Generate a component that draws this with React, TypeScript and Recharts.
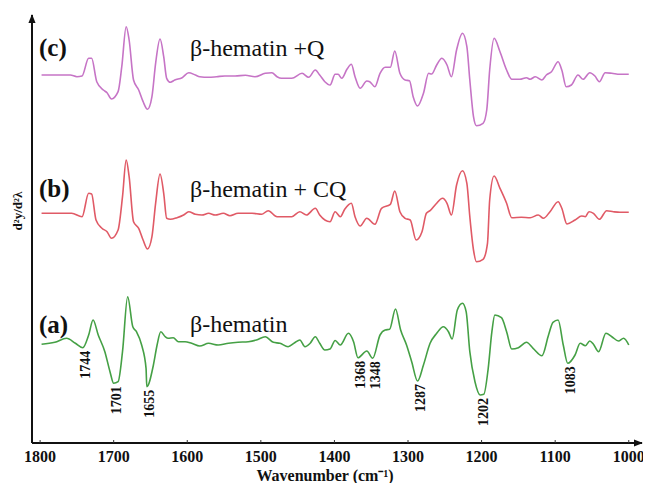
import React from "react";
import { LineChart, Line, XAxis, YAxis, ReferenceDot } from "recharts";

// wavenumbers (cm-1) and second-derivative values (a.u., curves stacked)
const waveA = [1798, 1780, 1764, 1752, 1742, 1734, 1728, 1721, 1712, 1705, 1700, 1694, 1688, 1681, 1674, 1669, 1662, 1656, 1655, 1646, 1641, 1636, 1630, 1626, 1619, 1612, 1603, 1594, 1583, 1571, 1558, 1544, 1531, 1517, 1506, 1494, 1483, 1474, 1463, 1454, 1447, 1440, 1433, 1426, 1420, 1413, 1406, 1399, 1392, 1381, 1374, 1368, 1356, 1348, 1338, 1331, 1325, 1317, 1310, 1302, 1295, 1287, 1279, 1270, 1261, 1252, 1245, 1240, 1233, 1226, 1221, 1216, 1209, 1202, 1197, 1191, 1186, 1182, 1173, 1166, 1159, 1150, 1139, 1130, 1118, 1109, 1103, 1096, 1089, 1083, 1073, 1066, 1059, 1053, 1048, 1041, 1031, 1023, 1014, 1007, 1000];
const valA = [98.7, 100.7, 104.7, 99.7, 95.3, 108, 123, 108, 91.3, 71.3, 59.7, 61.3, 91.3, 146.3, 116.3, 111.3, 98, 74.7, 56.3, 78, 98, 111.3, 106.3, 104.7, 105.3, 101.3, 101.3, 99.7, 97, 99.7, 98, 99.7, 100.7, 101.3, 103, 106.3, 100.7, 99.7, 96.3, 100.3, 103, 96.3, 99.7, 106.3, 99.7, 93, 94, 102.5, 98, 109.7, 101.3, 85.3, 92, 84.7, 108, 113, 113.7, 134, 113, 98, 81.3, 62, 78, 99.7, 109.7, 116.3, 111.3, 104, 133, 139.7, 131.3, 91.3, 61.3, 48, 48.7, 74.7, 111.3, 128, 125.3, 111.3, 94, 95.3, 100.7, 94.7, 87.3, 108, 120.7, 123, 98, 79.7, 88, 99.7, 97.3, 102, 98.7, 91.3, 109.7, 106.3, 102, 104.7, 98];

const waveB = [1798, 1757, 1743, 1734, 1730, 1724, 1716, 1709, 1703, 1694, 1688, 1683, 1679, 1673, 1666, 1660, 1654, 1648, 1643, 1637, 1632, 1628, 1623, 1614, 1605, 1598, 1589, 1580, 1571, 1562, 1551, 1542, 1531, 1512, 1499, 1490, 1478, 1458, 1447, 1438, 1426, 1420, 1406, 1399, 1392, 1386, 1377, 1372, 1365, 1356, 1345, 1336, 1324, 1318, 1311, 1304, 1297, 1289, 1281, 1275, 1270, 1262, 1253, 1247, 1241, 1234, 1226, 1220, 1216, 1211, 1207, 1198, 1192, 1189, 1183, 1175, 1166, 1159, 1146, 1134, 1123, 1116, 1107, 1096, 1091, 1084, 1073, 1064, 1059, 1054, 1048, 1040, 1030, 1021, 1012, 1000];
const valB = [229.7, 229.7, 226.3, 249.7, 249, 223, 214.7, 211.3, 204.7, 213, 246.3, 283, 266.3, 221.3, 214.7, 203, 194, 206.3, 239.7, 269, 249.7, 224.7, 223.7, 225.3, 228, 231.3, 228.7, 228, 229.7, 228, 229.7, 227.3, 229.7, 229.7, 228.7, 232.3, 226.3, 226.3, 231.3, 228, 234.7, 228, 221.3, 231.3, 226.3, 233.7, 239.7, 226.3, 217, 224.7, 218.7, 234.7, 238.7, 252, 231.3, 224.7, 223, 203, 211.3, 229.7, 232.3, 239, 244.7, 239.7, 228, 258, 272.3, 259.7, 226.3, 193, 181.3, 183.7, 199.7, 243, 267, 254.7, 239.7, 225.3, 225.7, 225.3, 228, 224.7, 231.3, 241.3, 234.7, 219, 223, 227, 226.3, 231.3, 229.7, 223.7, 232.3, 231.3, 230.7, 230.7];

const waveC = [1798, 1759, 1750, 1743, 1734, 1730, 1723, 1714, 1709, 1703, 1694, 1689, 1683, 1679, 1673, 1666, 1660, 1654, 1648, 1643, 1637, 1632, 1628, 1623, 1617, 1607, 1598, 1589, 1583, 1571, 1560, 1549, 1535, 1521, 1508, 1494, 1485, 1478, 1472, 1458, 1444, 1435, 1426, 1420, 1413, 1406, 1399, 1395, 1390, 1383, 1377, 1372, 1365, 1356, 1352, 1345, 1338, 1331, 1324, 1318, 1311, 1304, 1298, 1293, 1287, 1279, 1272, 1268, 1261, 1254, 1247, 1241, 1234, 1226, 1220, 1216, 1211, 1207, 1198, 1193, 1189, 1183, 1175, 1166, 1159, 1148, 1139, 1134, 1127, 1118, 1112, 1105, 1096, 1091, 1085, 1078, 1069, 1062, 1053, 1046, 1040, 1032, 1023, 1012, 1000];
const valC = [368, 368, 366.3, 367, 384.7, 384.7, 361.3, 353, 350.3, 344, 351.3, 376.3, 416.3, 403, 363, 353, 341.3, 333.7, 346.3, 379.7, 404, 386.3, 364.7, 360.7, 363, 365.3, 370.3, 368, 366.3, 365.7, 366.3, 367, 367, 367.7, 366.3, 369.7, 370.3, 366.3, 364.7, 364.7, 369.7, 365.7, 373, 368, 361.3, 358, 368.7, 368.7, 364.7, 373.7, 378.7, 366.3, 354.7, 362, 361.3, 356.3, 369.7, 375.7, 375.7, 392, 369.7, 363, 362.3, 346.3, 337, 349.7, 369.7, 369, 378, 384.7, 378, 366.3, 393, 409.7, 396.3, 363, 326.3, 317.3, 319.7, 333, 373, 404.7, 391.3, 373, 363.7, 363.7, 365.3, 363.7, 366.3, 363, 368, 371.3, 381.3, 373, 356.3, 358, 368, 363.7, 370.3, 367, 361.3, 370.3, 369.7, 368.7, 368.7];

const xTicks = [1800, 1700, 1600, 1500, 1400, 1300, 1200, 1100, 1000];
const peakLabels = [1744, 1701, 1655, 1368, 1348, 1287, 1202, 1083];

const toRows = (w: number[], v: number[]) => w.map((x, i) => ({ x, y: v[i] }));
const dataA = toRows(waveA, valA);
const dataB = toRows(waveB, valB);
const dataC = toRows(waveC, valC);

const nearestA = (w: number) =>
  dataA.reduce((best, p) => (Math.abs(p.x - w) < Math.abs(best.x - w) ? p : best), dataA[0]);

const serif = "'Liberation Serif', 'Times New Roman', serif";

const XTick = (props: any) => {
  const { x, y, payload } = props;
  return (
    <g>
      <line x1={x} y1={y} x2={x} y2={y - 3} stroke="#333" strokeWidth={1} />
      <text x={x} y={y + 13} textAnchor="middle" dominantBaseline="central" fontFamily={serif} fontWeight="bold" fontSize={16} fill="#111">
        {payload.value}
      </text>
    </g>
  );
};

const PeakLabel = (text: number) => (props: any) => {
  const vb = props.viewBox || {};
  const cx = (vb.x ?? 0) + (vb.width ?? 0) / 2 + 3;
  const cy = (vb.y ?? 0) + (vb.height ?? 0) / 2 + 3;
  return (
    <text transform={`translate(${cx},${cy}) rotate(-90)`} textAnchor="end" dominantBaseline="central" fontFamily={serif} fontWeight="bold" fontSize={14} fill="#111">
      {text}
    </text>
  );
};

const YLabel = (props: any) => {
  const vb = props.viewBox || {};
  const cy = (vb.y ?? 0) + (vb.height ?? 0) / 2 - 18;
  return (
    <text transform={`translate(9,${cy}) rotate(-90)`} textAnchor="middle" dominantBaseline="central" fontFamily={serif} fontWeight="bold" fontSize={13} fill="#111">
      d²y/d²λ
    </text>
  );
};

const XLabel = (props: any) => {
  const vb = props.viewBox || {};
  const cx = (vb.x ?? 0) + (vb.width ?? 0) / 2 - 12;
  return (
    <text x={cx} y={467} textAnchor="middle" dominantBaseline="central" fontFamily={serif} fontWeight="bold" fontSize={16} fill="#111">
      Wavenumber (cm⁻¹)
    </text>
  );
};

const textStyle: React.CSSProperties = { position: "absolute", fontFamily: serif, color: "#111", whiteSpace: "nowrap", lineHeight: 1 };

export default function App() {
  return (
    <div style={{ position: "relative", width: 643, height: 475 }}>
      <svg width={0} height={0} style={{ position: "absolute" }}>
        <defs>
          <marker id="arrow" viewBox="0 0 10 10" refX="9" refY="5" markerWidth="9" markerHeight="9" markerUnits="userSpaceOnUse" orient="auto-start-reverse">
            <path d="M0,1 L10,5 L0,9 z" fill="#111" />
          </marker>
        </defs>
      </svg>
      <LineChart width={643} height={475} margin={{ top: 7, right: 9, bottom: 0, left: 0 }}>
        <XAxis
          dataKey="x"
          type="number"
          reversed
          domain={[982, 1811]}
          ticks={xTicks}
          allowDataOverflow
          height={40}
          tickLine={false}
          tickSize={0}
          tickMargin={0}
          tick={<XTick />}
          axisLine={{ stroke: "#111", strokeWidth: 2, markerEnd: "url(#arrow)" }}
          label={<XLabel />}
        />
        <YAxis
          type="number"
          domain={[0, 428]}
          width={24}
          tick={false}
          tickLine={false}
          axisLine={{ stroke: "#111", strokeWidth: 2, markerStart: "url(#arrow)" }}
          label={<YLabel />}
        />
        <Line data={dataC} dataKey="y" type="monotone" stroke="#c674c6" strokeWidth={1.6} dot={false} isAnimationActive={false} />
        <Line data={dataB} dataKey="y" type="monotone" stroke="#e05a66" strokeWidth={1.6} dot={false} isAnimationActive={false} />
        <Line data={dataA} dataKey="y" type="monotone" stroke="#45a045" strokeWidth={1.6} dot={false} isAnimationActive={false} />
        {peakLabels.map((w) => {
          const p = nearestA(w);
          return <ReferenceDot key={w} x={p.x} y={p.y} r={0} stroke="none" fill="none" label={PeakLabel(w)} />;
        })}
      </LineChart>
      <div style={{ ...textStyle, left: 31, top: 27, fontSize: 25, fontWeight: "bold" }}>(c)</div>
      <div style={{ ...textStyle, left: 182, top: 28, fontSize: 24 }}>β-hematin +Q</div>
      <div style={{ ...textStyle, left: 31, top: 168, fontSize: 25, fontWeight: "bold" }}>(b)</div>
      <div style={{ ...textStyle, left: 182, top: 169, fontSize: 24 }}>β-hematin + CQ</div>
      <div style={{ ...textStyle, left: 31, top: 304, fontSize: 25, fontWeight: "bold" }}>(a)</div>
      <div style={{ ...textStyle, left: 182, top: 304, fontSize: 24 }}>β-hematin</div>
    </div>
  );
}
